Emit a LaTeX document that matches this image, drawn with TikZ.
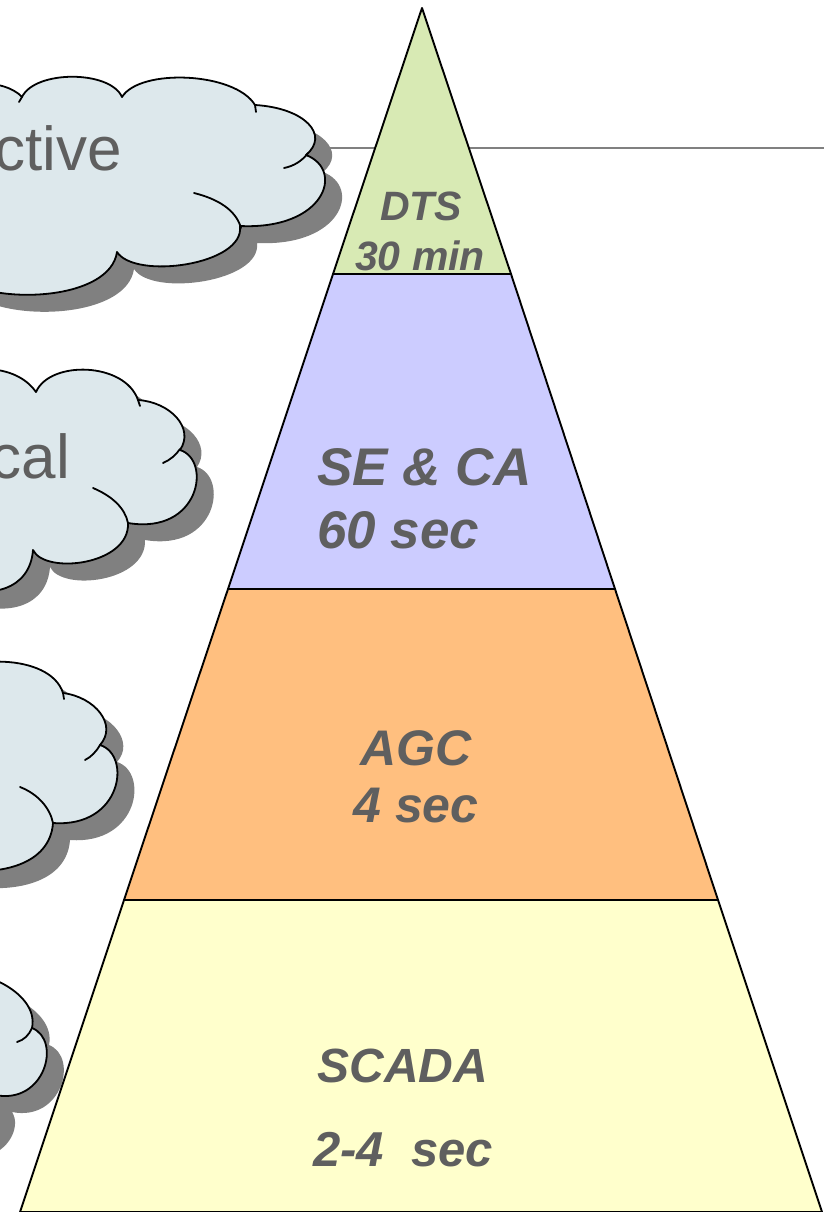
\documentclass[tikz,border=0pt]{standalone}
\usepackage{fontspec}
\setmainfont{Liberation Sans}
\definecolor{dtsgreen}{HTML}{D8EAB4}
\definecolor{selilac}{HTML}{CCCCFF}
\definecolor{agcorange}{HTML}{FFBF7F}
\definecolor{scadayellow}{HTML}{FFFFCC}
\definecolor{cloudblue}{HTML}{DDE8EC}
\definecolor{shadowgray}{HTML}{808080}
\definecolor{labelgray}{HTML}{5F5F5F}

% cloud outlines (partly outside the frame on the left)
\newcommand{\cloudOne}{(-60,100) .. controls (-50,78) and (5,78) .. (22,97)
  .. controls (35,70) and (110,70) .. (122,97)
  .. controls (140,68) and (235,72) .. (255,105)
  .. controls (305,108) and (330,135) .. (306,155)
  .. controls (345,170) and (325,230) .. (240,226)
  .. controls (245,265) and (135,280) .. (117,252)
  .. controls (110,300) and (0,305) .. (-40,280)
  -- (-80,280) -- (-80,100) -- cycle}
\newcommand{\cloudTwo}{(-60,380) .. controls (-35,365) and (15,362) .. (36,392)
  .. controls (50,360) and (125,362) .. (138,400)
  .. controls (170,402) and (195,428) .. (180,450)
  .. controls (212,460) and (200,535) .. (128,523)
  .. controls (130,565) and (45,575) .. (33,550)
  .. controls (30,590) and (-10,600) .. (-50,585)
  -- (-80,585) -- (-80,380) -- cycle}
\newcommand{\cloudThree}{(-60,680) .. controls (-40,655) and (50,652) .. (63,693)
  .. controls (95,697) and (118,725) .. (100,745)
  .. controls (132,755) and (122,828) .. (53,823)
  .. controls (50,865) and (0,875) .. (-40,870)
  -- (-80,870) -- (-80,680) -- cycle}
\newcommand{\cloudFour}{(-60,975) .. controls (-30,962) and (40,990) .. (32,1028)
  .. controls (62,1040) and (45,1105) .. (-5,1095)
  .. controls (5,1110) and (-10,1140) .. (-40,1140)
  -- (-80,1140) -- (-80,975) -- cycle}

\begin{document}
\begin{tikzpicture}[x=1pt,y=-1pt,
  cloudshadow/.style={fill=shadowgray, shift={(17,17)}},
  cloudbody/.style={fill=cloudblue, draw=black, line width=1.8pt, line join=round},
  cloudfold/.style={draw=black, line width=1.8pt, line cap=round},
  layer/.style={draw=black, line width=1.9pt, line join=round},
  layertext/.style={text=labelgray, inner sep=0pt, anchor=base, font=\bfseries\itshape},
  cloudtext/.style={text=labelgray, inner sep=0pt, anchor=base east, font=\fontsize{62}{74}\selectfont}]
\useasboundingbox (0,0) rectangle (824,1212);
\clip (0,0) rectangle (824,1212);

% thin rule behind the clouds and the pyramid
\coordinate (ruleL) at (290,148);
\coordinate (ruleR) at (824,148);
\draw[shadowgray, line width=1.2pt] (ruleL) -- (ruleR);

% clouds with drop shadows
\fill[cloudshadow] \cloudOne;
\path[cloudbody] \cloudOne;
\draw[cloudfold] (284,168) .. controls (294,166) and (302,161) .. (308,153);
\draw[cloudfold] (194,193) .. controls (218,199) and (236,210) .. (241,228);
\draw[cloudfold] (22,97) -- (19,102);
\draw[cloudfold] (255,105) -- (256,112);

\fill[cloudshadow] \cloudTwo;
\path[cloudbody] \cloudTwo;
\draw[cloudfold] (163,463) .. controls (170,460) and (176,455) .. (180,449);
\draw[cloudfold] (93,488) .. controls (112,496) and (125,508) .. (128,523);
\draw[cloudfold] (138,400) -- (140,406);

\fill[cloudshadow] \cloudThree;
\path[cloudbody] \cloudThree;
\draw[cloudfold] (85,760) .. controls (91,757) and (96,752) .. (100,745);
\draw[cloudfold] (20,787) .. controls (38,794) and (50,808) .. (53,823);
\draw[cloudfold] (63,693) -- (64,699);

\fill[cloudshadow] \cloudFour;
\path[cloudbody] \cloudFour;
\draw[cloudfold] (17,1042) .. controls (24,1040) and (29,1035) .. (32,1028);

% cloud captions
\node[cloudtext] (capA) at (122,170) {ctive};
\node[cloudtext] (capB) at (4,247) {n};
\node[cloudtext] (capC) at (70,478) {cal};

% pyramid corners
\coordinate (apex) at (422,8);
\coordinate (l1) at (333,274);  \coordinate (r1) at (511,274);
\coordinate (l2) at (228,589);  \coordinate (r2) at (615,589);
\coordinate (l3) at (124,900);  \coordinate (r3) at (718,900);
\coordinate (l4) at (20,1212);  \coordinate (r4) at (822,1212);

% pyramid layers, top to bottom
\path[layer, fill=dtsgreen] (apex) -- (r1) -- (l1) -- cycle;
\path[layer, fill=selilac] (l1) -- (r1) -- (r2) -- (l2) -- cycle;
\path[layer, fill=agcorange] (l2) -- (r2) -- (r3) -- (l3) -- cycle;
\path[layer, fill=scadayellow] (l3) -- (r3) -- (r4) -- (l4) -- cycle;

% layer labels
\node[layertext, font=\bfseries\itshape\fontsize{41}{49}\selectfont] (dts) at (421,220) {DTS};
\node[layertext, font=\bfseries\itshape\fontsize{41}{49}\selectfont] (dtst) at (420,270) {30 min};
\node[layertext, anchor=base west, font=\bfseries\itshape\fontsize{53}{63}\selectfont] (se) at (317,485) {SE \& CA};
\node[layertext, anchor=base west, font=\bfseries\itshape\fontsize{53}{63}\selectfont] (set) at (317,548) {60 sec};
\node[layertext, font=\bfseries\itshape\fontsize{50}{60}\selectfont] (agc) at (416,765) {AGC};
\node[layertext, font=\bfseries\itshape\fontsize{50}{60}\selectfont] (agct) at (416,822) {4 sec};
\node[layertext, font=\bfseries\itshape\fontsize{48}{58}\selectfont] (scada) at (403,1082) {SCADA};
\node[layertext, font=\bfseries\itshape\fontsize{49}{59}\selectfont] (scadat) at (403,1166) {2-4~~sec};
\end{tikzpicture}
\end{document}
